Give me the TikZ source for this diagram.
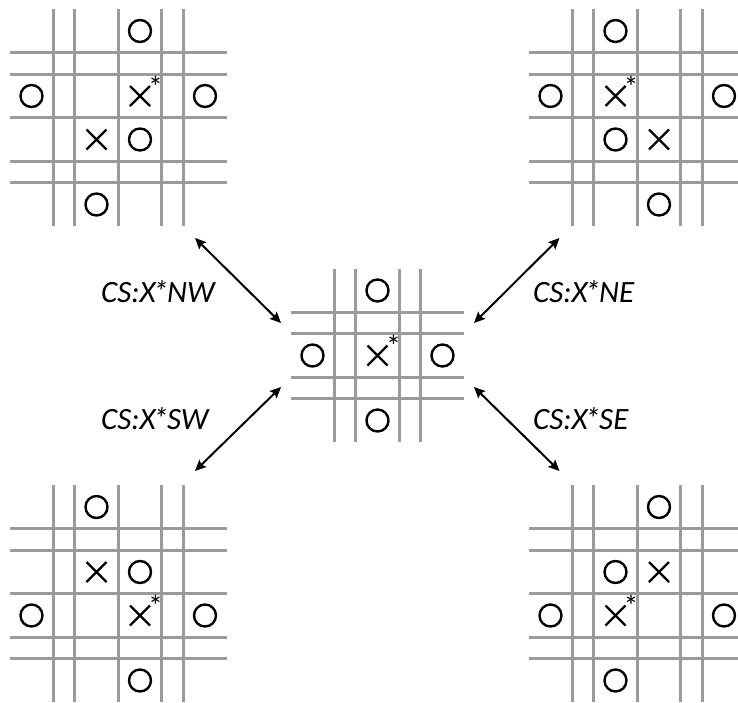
\documentclass[tikz,border=0pt]{standalone}
\usepackage{fontspec}
\setmainfont{Carlito}
\usetikzlibrary{arrows.meta}
\definecolor{gridgray}{RGB}{155,155,155}
\newcommand\Omk[2]{\draw[xo] (#1,#2) circle[radius=11];}
\newcommand\Xmk[2]{\draw[xo] (#1-10,#2-10) -- (#1+10,#2+10) (#1-10,#2+10) -- (#1+10,#2-10);}
\newcommand\Xst{X\kern-3pt*\kern-1pt}
% corner board: centre of X* cell, x-flip, y-flip
\newcommand\cornerboard[4]{%
\begin{scope}[shift={(#1,#2)},xscale=#3,yscale=#4]
  \foreach \vx in {-86.75,-65.25,-21.75,21.75,43.25}
    \draw[gridline] (\vx,-86.75) -- (\vx,130.25);
  \foreach \hy in {-43.25,-21.75,21.75,65.25,86.75}
    \draw[gridline] (-130.25,\hy) -- (86.75,\hy);
  \Omk{0}{-65}
  \Omk{-108.5}{0}
  \Xmk{0}{0}
  \Omk{65}{0}
  \Xmk{-43.5}{43.5}
  \Omk{0}{43.5}
  \Omk{-43.5}{108.5}
\end{scope}%
\node[astk] at (#1+15.5,#2-20.5) {*};}
\begin{document}
\begin{tikzpicture}[x=1pt,y=-1pt,
  gridline/.style={draw=gridgray,line width=2.6pt},
  xo/.style={draw=black,line width=2.4pt},
  link/.style={draw=black,line width=2pt,{Stealth[length=11pt,width=10pt,inset=2pt]}-{Stealth[length=11pt,width=10pt,inset=2pt]}},
  lab/.style={font=\fontsize{31}{31}\selectfont\itshape,anchor=base west,inner sep=0pt},
  astk/.style={font=\fontsize{30}{30}\selectfont,anchor=north,inner sep=0pt}]
\useasboundingbox (0,0) rectangle (738,702);
\clip (0,0) rectangle (738,702);

% corner boards
\cornerboard{140}{96}{1}{1}
\cornerboard{615.5}{96}{-1}{1}
\cornerboard{140}{615.5}{1}{-1}
\cornerboard{615.5}{615.5}{-1}{-1}

% centre board
\begin{scope}[shift={(377.5,355.5)}]
  \foreach \v in {-43.25,-21.75,21.75,43.25}{
    \draw[gridline] (\v,-86.75) -- (\v,86.75);
    \draw[gridline] (-86.75,\v) -- (86.75,\v);}
  \Omk{0}{-65}
  \Omk{-65}{0}
  \Xmk{0}{0}
  \Omk{65}{0}
  \Omk{0}{65}
\end{scope}
\node[astk] (cstar) at (393.5,335) {*};

% arrow end points
\coordinate (nwout) at (195,238);
\coordinate (nwin) at (281,323);
\coordinate (neout) at (559.5,238);
\coordinate (nein) at (474,323);
\coordinate (swout) at (195,471);
\coordinate (swin) at (281,387);
\coordinate (seout) at (559.5,471);
\coordinate (sein) at (474,387);
\draw[link] (nwout) -- (nwin);
\draw[link] (neout) -- (nein);
\draw[link] (swout) -- (swin);
\draw[link] (seout) -- (sein);

% labels
\node[lab] (lnw) at (101,302) {CS:\Xst NW};
\node[lab] (lne) at (533,302) {CS:\Xst NE};
\node[lab] (lsw) at (101,429) {CS:\Xst SW};
\node[lab] (lse) at (533,429) {CS:\Xst SE};
\end{tikzpicture}
\end{document}
